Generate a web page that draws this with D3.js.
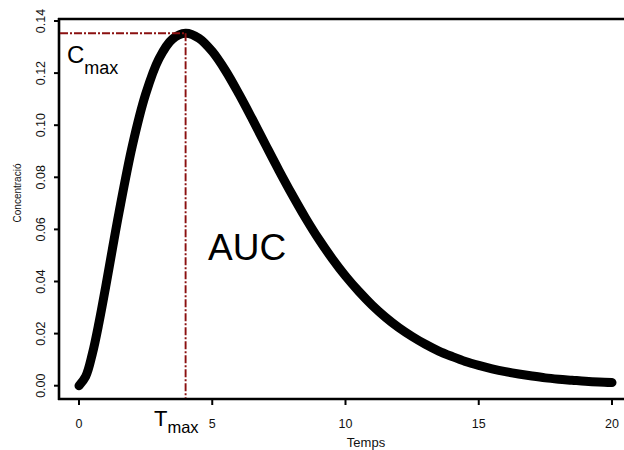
<!DOCTYPE html>
<html>
<head>
<meta charset="utf-8">
<script src="https://cdn.jsdelivr.net/npm/d3@7"></script>
<style>
  html, body { margin: 0; padding: 0; background: #fff; }
  svg { display: block; font-family: "Liberation Sans", Arial, sans-serif; }
</style>
</head>
<body>
<svg id="chart" width="624" height="450"></svg>
<script>
// Concentration–time profile (time, concentration)
const times = [0, 0.25, 0.5, 0.75, 1, 1.25, 1.5, 2, 2.5, 3, 3.5, 4, 4.5, 5, 5.5, 6, 6.5, 7, 7.5, 8, 8.5, 9, 9.5,
               10, 10.5, 11, 11.5, 12, 12.5, 13, 13.5, 14, 14.5, 15, 15.5, 16, 16.5, 17, 17.5,
               18, 18.5, 19, 19.5, 20];
const concentrations = [0, 0.0035, 0.0122, 0.0242, 0.0379, 0.0523, 0.0664, 0.0920, 0.1119, 0.1255, 0.1330, 0.1353, 0.1334,
                        0.1283, 0.1209, 0.1120, 0.1024, 0.0925, 0.0827, 0.0733, 0.0644, 0.0562, 0.0488,
                        0.0421, 0.0362, 0.0309, 0.0263, 0.0223, 0.0189, 0.0159, 0.0133, 0.0112, 0.0093,
                        0.0078, 0.0065, 0.0054, 0.0045, 0.0037, 0.0030, 0.0025, 0.0021, 0.0017, 0.0014,
                        0.0012];
const xTicks = [0, 5, 10, 15, 20];
const yTicks = [0.00, 0.02, 0.04, 0.06, 0.08, 0.10, 0.12, 0.14];
const tMax = 4;
const cMax = 0.1353;

const svg = d3.select("#chart");
const x = d3.scaleLinear().domain([0, 20]).range([79, 612]);
const y = d3.scaleLinear().domain([0, 0.14]).range([385.7, 21]);

const frame = { left: 59, right: 624, top: 19, bottom: 399 };
const axisColor = "#000";

// frame lines: left axis, bottom axis, top border
svg.append("line").attr("x1", frame.left).attr("x2", frame.left)
  .attr("y1", frame.top - 1).attr("y2", frame.bottom + 1)
  .attr("stroke", axisColor).attr("stroke-width", 2.6);
svg.append("line").attr("x1", frame.left - 1).attr("x2", frame.right)
  .attr("y1", frame.bottom).attr("y2", frame.bottom)
  .attr("stroke", axisColor).attr("stroke-width", 2.6);
svg.append("line").attr("x1", frame.left - 1).attr("x2", frame.right)
  .attr("y1", frame.top).attr("y2", frame.top)
  .attr("stroke", axisColor).attr("stroke-width", 2.6);

// y axis ticks and rotated labels
const yAxis = svg.append("g");
yAxis.selectAll("line").data(yTicks).join("line")
  .attr("x1", frame.left - 5).attr("x2", frame.left)
  .attr("y1", d => y(d)).attr("y2", d => y(d))
  .attr("stroke", axisColor).attr("stroke-width", 2);
yAxis.selectAll("text").data(yTicks).join("text")
  .attr("transform", d => `translate(45,${y(d)}) rotate(-90)`)
  .attr("text-anchor", "middle")
  .attr("font-size", 12.5)
  .attr("fill", "#111")
  .text(d => d3.format(".2f")(d));

// x axis ticks and labels
const xAxis = svg.append("g");
xAxis.selectAll("line").data(xTicks).join("line")
  .attr("x1", d => x(d)).attr("x2", d => x(d))
  .attr("y1", frame.bottom).attr("y2", frame.bottom + 6)
  .attr("stroke", axisColor).attr("stroke-width", 2);
xAxis.selectAll("text").data(xTicks).join("text")
  .attr("x", d => x(d)).attr("y", 428)
  .attr("text-anchor", "middle")
  .attr("font-size", 12.5)
  .attr("fill", "#111")
  .text(d => d);

// axis titles
svg.append("text")
  .attr("x", 366).attr("y", 447)
  .attr("text-anchor", "middle")
  .attr("font-size", 13)
  .attr("fill", "#111")
  .text("Temps");
svg.append("text")
  .attr("transform", "translate(21,193) rotate(-90)")
  .attr("text-anchor", "middle")
  .attr("font-size", 10)
  .attr("fill", "#111")
  .text("Concentració");

// concentration curve
const pts = times.map((t, i) => [t, concentrations[i]]);
const line = d3.line().x(d => x(d[0])).y(d => y(d[1])).curve(d3.curveCatmullRom);
svg.append("path")
  .attr("d", line(pts))
  .attr("fill", "none")
  .attr("stroke", "#000")
  .attr("stroke-width", 9)
  .attr("stroke-linecap", "round")
  .attr("stroke-linejoin", "round");

// Cmax / Tmax reference lines
const refColor = "#8b1010";
svg.append("line")
  .attr("x1", frame.left + 1).attr("x2", x(tMax))
  .attr("y1", y(cMax)).attr("y2", y(cMax))
  .attr("stroke", refColor).attr("stroke-width", 1.9)
  .attr("stroke-dasharray", "8,2,2,2");
svg.append("line")
  .attr("x1", x(tMax)).attr("x2", x(tMax))
  .attr("y1", y(cMax)).attr("y2", frame.bottom - 1)
  .attr("stroke", refColor).attr("stroke-width", 1.9)
  .attr("stroke-dasharray", "8,2,2,2");

// annotations
const cLab = svg.append("text").attr("x", 67).attr("y", 63).attr("fill", "#000");
cLab.append("tspan").attr("font-size", 24).text("C");
cLab.append("tspan").attr("font-size", 18).attr("dy", 11).text("max");

const tLab = svg.append("text").attr("x", 154).attr("y", 426).attr("fill", "#000");
tLab.append("tspan").attr("font-size", 22).text("T");
tLab.append("tspan").attr("font-size", 16.5).attr("dy", 7).text("max");

svg.append("text")
  .attr("x", 208).attr("y", 260)
  .attr("font-size", 37)
  .attr("fill", "#000")
  .text("AUC");
</script>
</body>
</html>
